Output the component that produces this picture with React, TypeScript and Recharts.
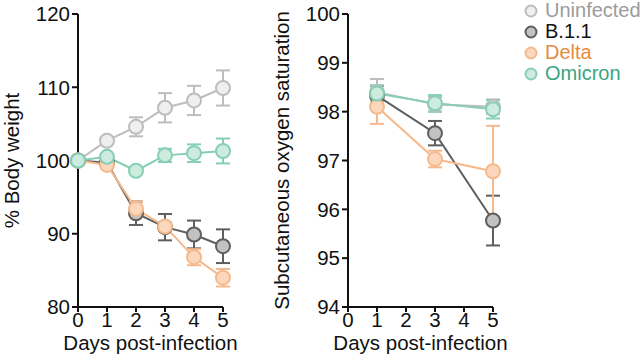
import { LineChart, Line, XAxis, YAxis, ErrorBar } from "recharts";

// Body weight (% of day 0), days 0..5
const weightDays = [0, 1, 2, 3, 4, 5];
const weightUninfected = [100, 102.7, 104.6, 107.2, 108.2, 109.9];
const weightUninfectedSd = [0, 0.4, 1.3, 2.0, 2.0, 2.4];
const weightB11 = [100, 99.7, 92.8, 90.9, 89.9, 88.3];
const weightB11Sd = [0, 0.3, 1.6, 1.8, 1.9, 2.3];
const weightDelta = [100, 99.4, 93.4, 91.0, 86.8, 84.0];
const weightDeltaSd = [0, 0.4, 1.0, 0.6, 1.1, 1.2];
const weightOmicron = [100, 100.5, 98.6, 100.7, 101.0, 101.3];
const weightOmicronSd = [0, 0.3, 0.3, 0.9, 1.2, 1.7];

// Subcutaneous oxygen saturation, days 1, 3, 5
const o2Days = [1, 3, 5];
const o2Uninfected = [98.4, 98.15, 98.1];
const o2UninfectedSd = [0.27, 0.15, 0.15];
const o2B11 = [98.33, 97.56, 95.77];
const o2B11Sd = [0.2, 0.25, 0.51];
const o2Delta = [98.1, 97.03, 96.78];
const o2DeltaSd = [0.35, 0.17, 0.93];
const o2Omicron = [98.37, 98.17, 98.05];
const o2OmicronSd = [0.17, 0.17, 0.19];

const weightTicks = [80, 90, 100, 110, 120];
const o2Ticks = [94, 95, 96, 97, 98, 99, 100];
const dayTicks = [0, 1, 2, 3, 4, 5];

const FONT = '"Liberation Sans", Arial, Helvetica, sans-serif';
const FS = 20.5;

const series = [
  { key: "u", name: "Uninfected", stroke: "#bdbdbd", fill: "#efefef", text: "#9b9b9b" },
  { key: "b", name: "B.1.1", stroke: "#5e5e5e", fill: "#c2c2c2", text: "#111111" },
  { key: "d", name: "Delta", stroke: "#f5b98c", fill: "#fbd8bd", text: "#e98a3d" },
  { key: "o", name: "Omicron", stroke: "#86cfb5", fill: "#cdebdf", text: "#3aa581" },
];

const weightData = weightDays.map((day, i) => ({
  day,
  u: weightUninfected[i],
  uSd: weightUninfectedSd[i],
  b: weightB11[i],
  bSd: weightB11Sd[i],
  d: weightDelta[i],
  dSd: weightDeltaSd[i],
  o: weightOmicron[i],
  oSd: weightOmicronSd[i],
}));

const o2Data = o2Days.map((day, i) => ({
  day,
  u: o2Uninfected[i],
  uSd: o2UninfectedSd[i],
  b: o2B11[i],
  bSd: o2B11Sd[i],
  d: o2Delta[i],
  dSd: o2DeltaSd[i],
  o: o2Omicron[i],
  oSd: o2OmicronSd[i],
}));

const tickStyle = { fontSize: FS, fill: "#111", fontFamily: FONT };
const axisLine = { stroke: "#111", strokeWidth: 2 };

function Panel({
  data,
  domain,
  ticks,
  ylabel,
}: {
  data: Record<string, number>[];
  domain: [number, number];
  ticks: number[];
  ylabel: string;
}) {
  return (
    <LineChart
      width={250}
      height={360}
      data={data}
      margin={{ top: 14, right: 27, bottom: 0, left: 0 }}
    >
      <XAxis
        dataKey="day"
        type="number"
        domain={[0, 5]}
        ticks={dayTicks}
        interval={0}
        tick={tickStyle}
        axisLine={axisLine}
        tickLine={axisLine}
        tickSize={5}
        tickMargin={0}
        height={53}
        label={{
          value: "Days post-infection",
          position: "insideBottom",
          offset: 10,
          style: { fontSize: FS, fill: "#111", fontFamily: FONT },
        }}
      />
      <YAxis
        type="number"
        domain={domain}
        ticks={ticks}
        interval={0}
        tick={tickStyle}
        axisLine={axisLine}
        tickLine={axisLine}
        tickSize={6}
        tickMargin={2}
        width={78}
        label={{
          value: ylabel,
          angle: -90,
          position: "insideLeft",
          offset: 12,
          style: { fontSize: FS, fill: "#111", fontFamily: FONT, textAnchor: "middle" },
        }}
      />
      {series.map((s) => (
        <Line
          key={s.key}
          dataKey={s.key}
          name={s.name}
          type="linear"
          stroke={s.stroke}
          strokeWidth={2}
          dot={{ r: 7, fill: s.fill, stroke: s.stroke, strokeWidth: 2 }}
          activeDot={false}
          isAnimationActive={false}
        >
          <ErrorBar dataKey={`${s.key}Sd`} width={7} stroke={s.stroke} strokeWidth={2} />
        </Line>
      ))}
    </LineChart>
  );
}

export default function App() {
  return (
    <div
      style={{
        position: "absolute",
        left: 0,
        top: 0,
        width: 640,
        height: 360,
        background: "#fff",
        fontFamily: FONT,
      }}
    >
      <div style={{ position: "absolute", left: 0, top: 0 }}>
        <Panel data={weightData} domain={[80, 120]} ticks={weightTicks} ylabel="% Body weight" />
      </div>
      <div style={{ position: "absolute", left: 270, top: 0 }}>
        <Panel
          data={o2Data}
          domain={[94, 100]}
          ticks={o2Ticks}
          ylabel="Subcutaneous oxygen saturation"
        />
      </div>
      <div style={{ position: "absolute", left: 523, top: 0 }}>
        {series.map((s) => (
          <div
            key={s.key}
            style={{
              display: "flex",
              alignItems: "center",
              height: 21,
              fontSize: 20,
              color: s.text,
              lineHeight: "21px",
            }}
          >
            <svg width={18} height={14} style={{ marginRight: 4 }}>
              <circle cx={8} cy={7} r={5.5} fill={s.fill} stroke={s.stroke} strokeWidth={2} />
            </svg>
            {s.name}
          </div>
        ))}
      </div>
    </div>
  );
}
